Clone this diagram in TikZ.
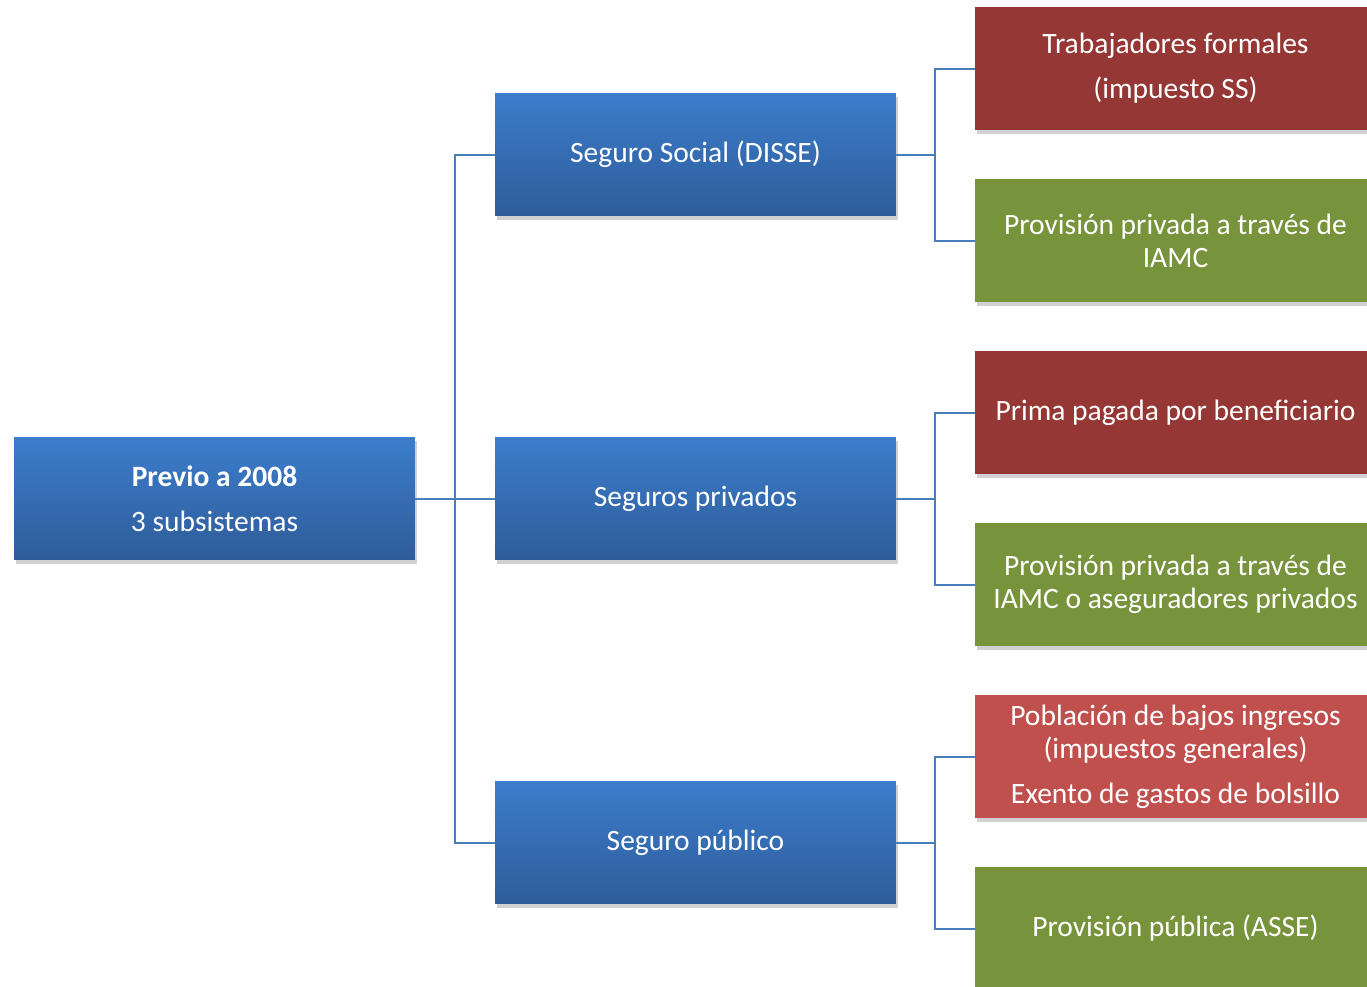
\documentclass[tikz,border=0pt]{standalone}
\usepackage{fontspec}
\setmainfont{Carlito}
\usetikzlibrary{positioning,shadows,calc}

\definecolor{boxblue}{RGB}{60,125,204}
\definecolor{boxbluedark}{RGB}{46,92,153}
\definecolor{paydark}{RGB}{149,55,53}
\definecolor{paylight}{RGB}{192,80,77}
\definecolor{provgreen}{RGB}{119,147,60}
\definecolor{linkblue}{RGB}{74,126,187}

\tikzset{
  box/.style={rectangle, minimum width=8.02cm, minimum height=2.46cm, inner sep=0pt,
    text=white, align=center, font=\fontsize{16.8}{18.8}\selectfont,
    drop shadow={shadow xshift=0.04cm, shadow yshift=-0.08cm, fill=black, opacity=0.18}},
  bluebox/.style={box, top color=boxblue, bottom color=boxbluedark},
  paybox/.style={box, fill=paydark},
  poorbox/.style={box, fill=paylight},
  provbox/.style={box, fill=provgreen},
  link/.style={draw=linkblue, line width=0.04cm}
}

\begin{document}
\begin{tikzpicture}[x=0.02cm, y=-0.02cm]
    \useasboundingbox (0,0) rectangle (1367,987);
    \clip (0,0) rectangle (1367,987);
    % levels
    \node[bluebox] (root) at (214.5,498.5) {\textbf{Previo a 2008}\\[6.8pt]3 subsistemas};
    \node[bluebox] (disse) at (695.5,154.5) {Seguro Social (DISSE)};
    \node[bluebox] (privados) at (695.5,498.5) {Seguros privados};
    \node[bluebox] (publico) at (695.5,842.5) {Seguro público};
    \node[paybox] (formales) at (1175.5,68.5) {Trabajadores formales\\[6.8pt](impuesto SS)};
    \node[provbox] (provIAMC) at (1175.5,240.5) {Provisión privada a través de\\IAMC};
    \node[paybox] (prima) at (1175.5,412.5) {Prima pagada por beneficiario};
    \node[provbox] (provpriv) at (1175.5,584.5) {Provisión privada a través de\\IAMC o aseguradores privados};
    \node[poorbox] (bajos) at (1175.5,756.5) {Población de bajos ingresos\\(impuestos generales)\\[6.8pt]Exento de gastos de bolsillo};
    \node[provbox] (asse) at (1175.5,928.5) {Provisión pública (ASSE)};
    % connectors
    \draw[link] (root.east) -- +(40,0) coordinate (j0) |- (disse.west);
    \draw[link] (j0) |- (publico.west);
    \draw[link] (j0) -- (privados.west);
    \draw[link] (disse.east) -- +(39,0) coordinate (j1) |- (formales.west);
    \draw[link] (j1) |- (provIAMC.west);
    \draw[link] (privados.east) -- +(39,0) coordinate (j2) |- (prima.west);
    \draw[link] (j2) |- (provpriv.west);
    \draw[link] (publico.east) -- +(39,0) coordinate (j3) |- (bajos.west);
    \draw[link] (j3) |- (asse.west);
\end{tikzpicture}
\end{document}
